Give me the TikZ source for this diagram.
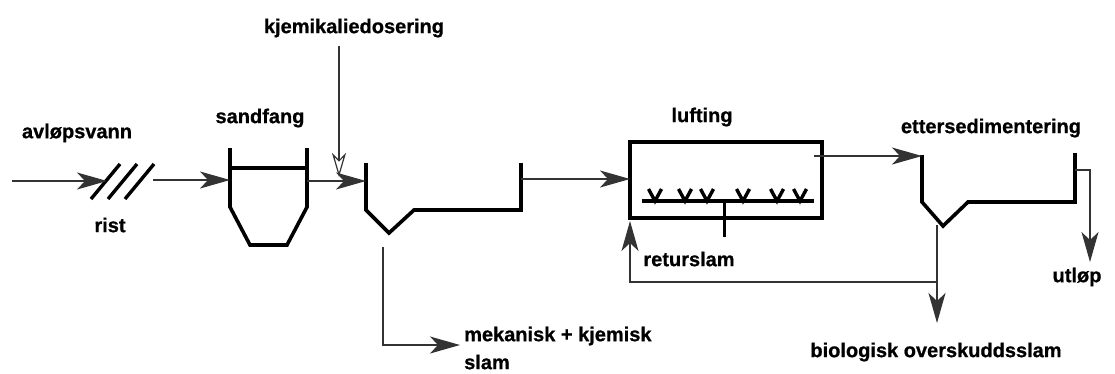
\documentclass[tikz,border=0pt]{standalone}
\usepackage{fontspec}
\setmainfont{Liberation Sans}[BoldFeatures={FakeBold=0.8}]
\usetikzlibrary{arrows.meta}
\tikzset{
  lbl/.style={inner sep=0pt, font=\fontsize{20}{22}\selectfont\bfseries},
  flow/.style={line width=1.1pt, draw=black!80},
  bigarrow/.style={flow, -{Stealth[length=30pt,width=17pt,inset=8pt]}},
  openarrow/.style={flow, -{Stealth[open,length=24pt,width=14pt,inset=7pt,line width=1.2pt]}},
  tank/.style={line width=3.6pt, line join=miter, line cap=butt},
}
\begin{document}
\begin{tikzpicture}[x=1pt,y=-1pt]
\useasboundingbox (0,0) rectangle (1115,373);
% labels
\node[lbl] (avl) at (77,133) {avløpsvann};
\node[lbl] (kjem) at (354,28) {kjemikaliedosering};
\node[lbl] (sand) at (260,118) {sandfang};
\node[lbl] (rist) at (110,225) {rist};
\node[lbl] (luft) at (702,117) {lufting};
\node[lbl] (etter) at (991,128) {ettersedimentering};
\node[lbl] (retur) at (689,259) {returslam};
\node[lbl] (utlop) at (1077,277) {utløp};
\node[lbl, anchor=west] (mek) at (464,336) {mekanisk + kjemisk};
\node[lbl, anchor=west] (slam) at (464,362) {slam};
\node[lbl] (bio) at (936,352) {biologisk overskuddsslam};

% coordinates
\coordinate (in) at (12,181);
\coordinate (ristin) at (107,181);
\coordinate (ristout) at (153,180);
\coordinate (sandin) at (230,180);
\coordinate (sandout) at (307,181);
\coordinate (b1in) at (366,181);
\coordinate (dos) at (339,177);
\coordinate (b1out) at (521,179);
\coordinate (luftin) at (630,179);
\coordinate (luftout) at (814,156);
\coordinate (b2in) at (922,156);
\coordinate (b2out) at (1075,170);
\coordinate (utc) at (1090,170);
\coordinate (utend) at (1090,262);
\coordinate (b1s) at (383,247);
\coordinate (b1c) at (383,345);
\coordinate (mekend) at (460,345);
\coordinate (b2s) at (937,225);
\coordinate (jn) at (937,282);
\coordinate (retc) at (630,282);
\coordinate (retend) at (630,221);
\coordinate (bioend) at (937,323);

% rist (screen)
\foreach \x in {91,108,125}
  \draw[line width=3.4pt] (\x,199) -- (\x+29,164);

% sandfang
\draw[tank] (230,148) -- (230,207) -- (250,245) -- (287,245) -- (307,207) -- (307,148);
\draw[line width=3.4pt] (230,168) -- (307,168);

% forsedimentering basin
\draw[tank] (366,163) -- (366,210) -- (389,233) -- (414,210) -- (521,210) -- (521,163);

% lufting tank
\draw[line width=3.4pt] (630,142) rectangle (822,218);
\draw[line width=3.4pt] (642,201) -- (814,201);
\foreach \x in {655,685,707,743,777,800}
  \draw[line width=3.4pt] (\x-6.5,189) -- (\x,201) -- (\x+6.5,189);
\draw[line width=3pt] (724,201) -- (724,237);

% ettersedimentering basin
\draw[tank] (922,155) -- (922,202) -- (943,226) -- (968,202) -- (1075,202) -- (1075,153);

% flows
\draw[bigarrow] (in) -- (ristin);
\draw[bigarrow] (ristout) -- (sandin);
\draw[bigarrow] (sandout) -- (b1in);
\draw[openarrow] (dos |- kjem.south) ++(0,8) -- (dos);
\draw[bigarrow] (b1out) -- (luftin);
\draw[bigarrow] (luftout) -- (b2in);
\draw[bigarrow] (b2out) -- (utc) -- (utend);
\draw[bigarrow] (b1s) -- (b1c) -- (mekend);
\draw[flow] (b2s) -- (jn);
\draw[bigarrow] (jn) -- (retc) -- (retend);
\draw[bigarrow] (jn) -- (bioend);
\end{tikzpicture}
\end{document}
